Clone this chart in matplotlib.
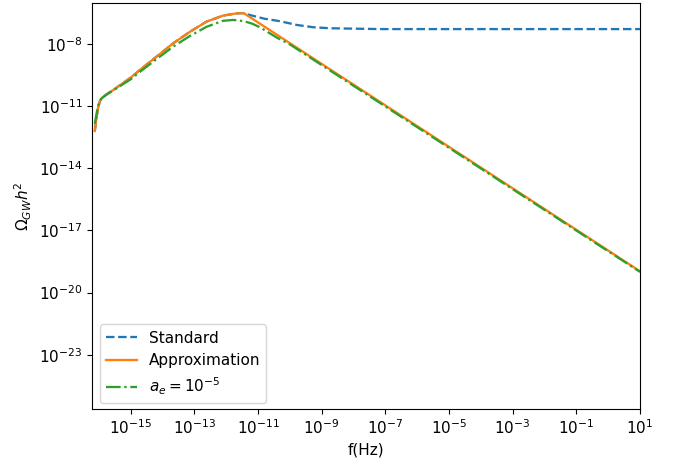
import numpy as np
import matplotlib
matplotlib.use("Agg")
import matplotlib.pyplot as plt
from matplotlib.ticker import NullLocator

# values, as log10(f) and log10(Omega h^2)
approx_logf = [-16.13, -16.08, -16.03, -15.97, -15.90, -15.75, -15.55, -15.0, -14.71,
               -14.19, -13.67, -13.14, -12.62, -12.10, -11.67, -11.45, 1.0]
approx_logo = [-12.2, -11.6, -11.1, -10.75, -10.60, -10.42, -10.22, -9.62, -9.25,
               -8.61, -7.97, -7.41, -6.92, -6.63, -6.52, -6.51, -18.97]

standard_logf = [-16.13, -16.08, -16.03, -15.97, -15.90, -15.75, -15.55, -15.0, -14.71,
                 -14.19, -13.67, -13.14, -12.62, -12.10, -11.67, -11.45,
                 -11.26, -10.8, -10.31, -9.79, -9.27, -8.74, -7.17, 1.0]
standard_logo = [-12.2, -11.6, -11.1, -10.75, -10.60, -10.42, -10.22, -9.62, -9.25,
                 -8.61, -7.97, -7.41, -6.92, -6.63, -6.52, -6.51,
                 -6.60, -6.78, -6.90, -7.08, -7.19, -7.24, -7.28, -7.28]

ae_logf = [-16.13, -16.08, -16.03, -15.97, -15.90, -15.75, -15.55, -15.0, -14.71,
           -14.19, -13.67, -13.14, -12.62, -12.10, -11.78, -11.47, -11.2, -10.94,
           -10.7, -10.4, -10.0, 1.0]
ae_logo = [-11.85, -11.4, -11.0, -10.72, -10.60, -10.43, -10.24, -9.70, -9.34,
           -8.73, -8.13, -7.61, -7.17, -6.88, -6.84, -6.89, -7.01, -7.19,
           -7.42, -7.70, -8.02, -19.0]

labels = ["Standard", "Approximation", r"$a_e=10^{-5}$"]
yticks = [1e-8, 1e-11, 1e-14, 1e-17, 1e-20, 1e-23]
xticks = [1e-15, 1e-13, 1e-11, 1e-9, 1e-7, 1e-5, 1e-3, 1e-1, 1e1]

plt.rcParams['font.size'] = 11

fig = plt.figure(figsize=(6.77, 4.66), dpi=100)
ax = fig.add_axes([0.1363, 0.1223, 0.9453 - 0.1363, 0.9936 - 0.1223])

lw = 1.65
ax.plot(10 ** np.array(standard_logf), 10 ** np.array(standard_logo), '--', color='C0', lw=lw, label=labels[0])
ax.plot(10 ** np.array(approx_logf), 10 ** np.array(approx_logo), '-', color='C1', lw=lw, label=labels[1])
ax.plot(10 ** np.array(ae_logf), 10 ** np.array(ae_logo), '-.', color='C2', lw=lw, label=labels[2])

ax.set_xscale('log')
ax.set_yscale('log')
ax.set_xlim(10 ** -16.21, 10 ** 1.0)
ax.set_ylim(10 ** -25.62, 10 ** -6.02)
ax.set_xticks(xticks)
ax.set_yticks(yticks)
ax.xaxis.set_minor_locator(NullLocator())
ax.yaxis.set_minor_locator(NullLocator())

ax.set_xlabel('f(Hz)')
ax.set_ylabel(r'$\Omega_{GW}h^2$')
ax.legend(loc='lower left', bbox_to_anchor=(0, -0.005))

fig.savefig('out.png', dpi=100)
